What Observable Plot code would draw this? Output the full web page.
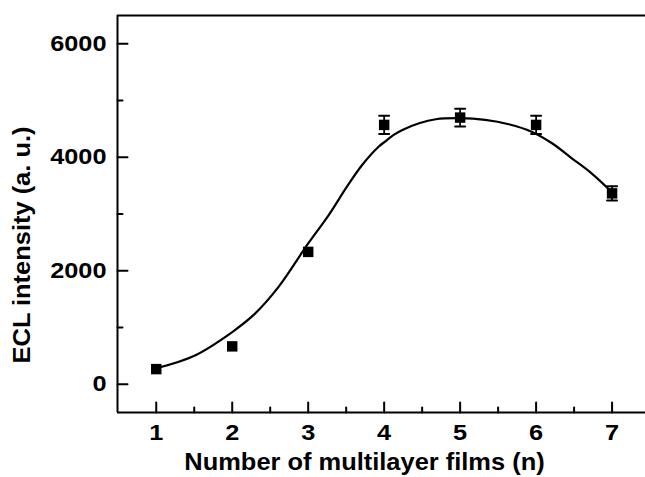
<!DOCTYPE html>
<html>
<head>
<meta charset="utf-8">
<script src="https://cdn.jsdelivr.net/npm/d3@7"></script>
<script src="https://cdn.jsdelivr.net/npm/@observablehq/plot@0.6"></script>
<style>
  html, body { margin: 0; padding: 0; background: #fff; }
  #chart svg { display: block; }
</style>
</head>
<body>
<div id="chart"></div>
<script>
// measured data points (number of films, ECL intensity, error)
const films = [1, 2, 3, 4, 5, 6, 7];
const intensity = [265, 666, 2332, 4571, 4700, 4571, 3364];
const errors = [0, 0, 0, 160, 155, 160, 125];

// fitted curve
const curveN = [1.0, 1.51, 2.0, 2.30, 2.61, 3.0, 3.27, 3.51, 3.71, 3.93, 4.02, 4.125, 4.24, 4.46, 4.68, 5.0, 5.33, 5.64, 5.94, 6.21, 6.47, 6.73, 7.0];
const curveI = [280, 507, 919, 1243, 1714, 2480, 2980, 3481, 3864, 4190, 4285, 4394, 4482, 4600, 4671, 4689, 4659, 4583, 4452, 4247, 3982, 3717, 3382];

const xMajor = [1, 2, 3, 4, 5, 6, 7];
const xMinor = [1.5, 2.5, 3.5, 4.5, 5.5, 6.5];
const yMajor = [0, 2000, 4000, 6000];
const yMinor = [1000, 3000, 5000];
const xDomain = [0.49, 7.44];
const yDomain = [-500, 6500];
const xTitle = "Number of multilayer films (n)";
const yTitle = "ECL intensity (a. u.)";

const points = films.map((n, i) => ({n, v: intensity[i], e: errors[i]}));
const bars = points.filter(d => d.e > 0);
const curve = curveN.map((n, i) => ({n, v: curveI[i]}));

const font = "'Liberation Sans', Arial, sans-serif";
const lineShape = {draw(ctx, l) { ctx.moveTo(0, 0); ctx.lineTo(0, -l); }};

const chart = Plot.plot({
  width: 645,
  height: 477,
  marginLeft: 117,
  marginRight: 0,
  marginTop: 15,
  marginBottom: 65,
  style: {fontFamily: font, fontWeight: "bold", color: "#000", background: "#fff", overflow: "visible"},
  x: {domain: xDomain, axis: null},
  y: {domain: yDomain, axis: null},
  marks: [
    // inward ticks
    Plot.vector(xMajor, {x: d => d, frameAnchor: "bottom", length: 10, anchor: "start", shape: lineShape, strokeWidth: 2}),
    Plot.vector(xMinor, {x: d => d, frameAnchor: "bottom", length: 5, anchor: "start", shape: lineShape, strokeWidth: 2}),
    Plot.vector(yMajor, {y: d => d, frameAnchor: "left", length: 10, rotate: 90, anchor: "start", shape: lineShape, strokeWidth: 2}),
    Plot.vector(yMinor, {y: d => d, frameAnchor: "left", length: 5, rotate: 90, anchor: "start", shape: lineShape, strokeWidth: 2}),
    // tick labels
    Plot.text(xMajor, {x: d => d, text: d => String(d), frameAnchor: "bottom", dy: 12, lineAnchor: "top", fontSize: 22, fontWeight: "bold", className: "tick-lbl"}),
    Plot.text(yMajor, {y: d => d, text: d => String(d), frameAnchor: "left", dx: -11, textAnchor: "end", lineAnchor: "middle", fontSize: 22, fontWeight: "bold", className: "tick-lbl"}),
    // frame lines
    Plot.ruleX([xDomain[0]], {strokeWidth: 2}),
    Plot.ruleY([yDomain[0], yDomain[1]], {strokeWidth: 2}),
    // fitted curve
    Plot.line(curve, {x: "n", y: "v", curve: "catmull-rom", stroke: "#000", strokeWidth: 2.2}),
    // error bars
    Plot.ruleX(bars, {x: "n", y1: d => d.v - d.e, y2: d => d.v + d.e, strokeWidth: 1.8}),
    Plot.vector(bars, {x: "n", y: d => d.v + d.e, length: 10, rotate: 90, anchor: "middle", shape: lineShape, strokeWidth: 2}),
    Plot.vector(bars, {x: "n", y: d => d.v - d.e, length: 10, rotate: 90, anchor: "middle", shape: lineShape, strokeWidth: 2}),
    // data points
    Plot.dot(points, {x: "n", y: "v", symbol: "square", r: 5.9, fill: "#000", stroke: "none"}),
    // axis titles
    Plot.text([xTitle], {frameAnchor: "bottom", dx: -17, dy: 50, fontSize: 24, fontWeight: "bold", textAnchor: "middle", lineAnchor: "middle", className: "axis-title"}),
    Plot.text([yTitle], {frameAnchor: "left", dx: -95, dy: 31, rotate: -90, fontSize: 24, fontWeight: "bold", textAnchor: "middle", lineAnchor: "middle", className: "axis-title"})
  ]
});
// the reference typeface is a wide bold grotesque: stretch glyphs horizontally
d3.select(chart).selectAll(".tick-lbl text").attr("transform", function() {
  return (this.getAttribute("transform") || "") + " scale(1.15,1)";
});
d3.select(chart).selectAll(".axis-title text").attr("transform", function() {
  return (this.getAttribute("transform") || "") + " scale(1.06,1)";
});
document.getElementById("chart").appendChild(chart);
</script>
</body>
</html>
